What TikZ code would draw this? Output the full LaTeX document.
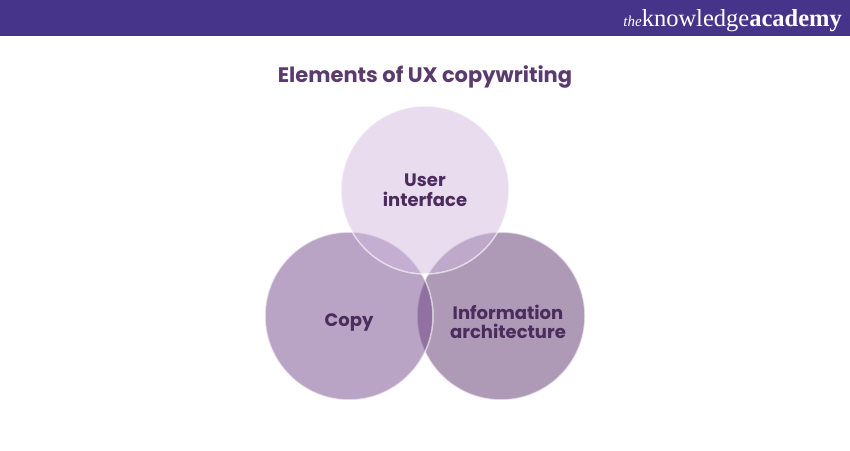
\documentclass[tikz,border=0pt]{standalone}
\usepackage{fontspec}
\setmainfont{Poppins}
\newfontfamily\logofont{Liberation Serif}
\definecolor{barpurple}{HTML}{46348A}
\definecolor{titlepurple}{HTML}{5B3A6E}
\definecolor{txtpurple}{HTML}{4B2C5C}
\definecolor{topfill}{HTML}{D1B9DD}
\definecolor{leftfill}{HTML}{73498D}
\definecolor{rightfill}{HTML}{AE9AB7}

\begin{document}
\begin{tikzpicture}[x=1pt, y=-1pt,
    venn/.style={circle, minimum size=168pt, inner sep=0pt, draw=white, draw opacity=0.6, line width=1.5pt},
    lbl/.style={font=\bfseries\fontsize{18}{19.5}\selectfont, text=txtpurple, align=center}]
    \useasboundingbox (0, 0) rectangle (850, 450);
    \fill[barpurple] (0, 0) rectangle (850, 36);
    \node[text=white, anchor=base east, inner sep=0pt] (logo) at (842, 26)
      {\logofont\fontsize{24.5}{24.5}\selectfont{\itshape\fontsize{15}{15}\selectfont the}knowledge\textbf{academy}};
    \node[font=\bfseries\fontsize{21}{24}\selectfont, text=titlepurple] (title) at (425, 77) {Elements of UX copywriting};
    % circles
    \node[venn, fill=rightfill] (ia) at (501, 316) {};
    \node[venn, fill=leftfill, fill opacity=0.5] (copy) at (349, 316) {};
    \node[venn, fill=topfill, fill opacity=0.5] (ui) at (425, 190) {};
    % labels
    \node[lbl] (uitext) at (425, 190) {User\\interface};
    \node[lbl] (copytext) at (349, 322) {Copy};
    \node[lbl] (iatext) at (508, 322) {Information\\architecture};
  \end{tikzpicture}
\end{document}
